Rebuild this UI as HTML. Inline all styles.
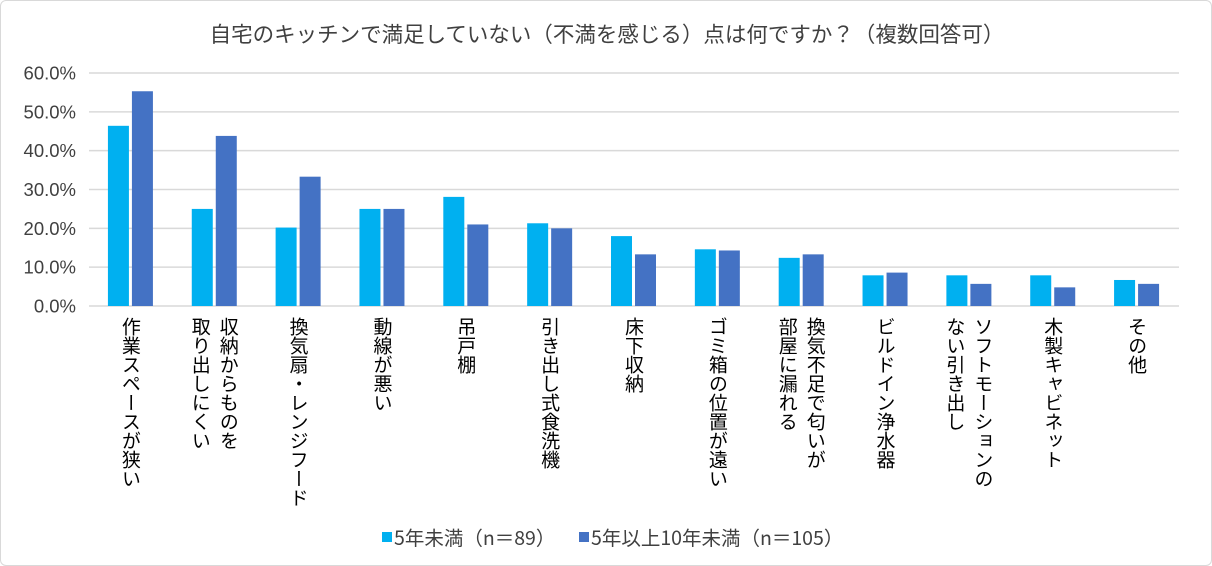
<!DOCTYPE html>
<html><head><meta charset="utf-8"><style>
body{margin:0;background:#fff;font-family:"Liberation Sans","Noto Sans CJK JP",sans-serif;}
#wrap{position:relative;width:1210px;height:564px;border:1px solid #d9d9d9;border-radius:6px;overflow:hidden;}
.lab{position:absolute;top:316px;writing-mode:vertical-rl;font-size:19px;line-height:28px;color:#000;font-family:"Noto Sans CJK JP",sans-serif;white-space:nowrap;}
</style></head><body>
<div id="wrap">
<svg id="svg" width="1210" height="564" style="position:absolute;left:0;top:0">
<text x="606" y="41" text-anchor="middle" font-size="21.5" fill="#404040" font-family="Noto Sans CJK JP, sans-serif">自宅のキッチンで満足していない（不満を感じる）点は何ですか？（複数回答可）</text>
</svg>
<div id="labels"></div>
</div>
<script>
const categories=["作業スペースが狭い","収納からものを\n取り出しにくい","換気扇・レンジフード","動線が悪い","吊戸棚","引き出し式食洗機","床下収納","ゴミ箱の位置が遠い","換気不足で匂いが\n部屋に漏れる","ビルドイン浄水器","ソフトモーションの\nない引き出し","木製キャビネット","その他"];
const seriesA=[46.4,25.0,20.2,25.0,28.1,21.3,18.0,14.6,12.4,7.9,7.9,7.9,6.7];
const seriesB=[55.3,43.8,33.3,25.0,21.0,20.0,13.3,14.3,13.3,8.6,5.7,4.8,5.7];
const ticks=[0,10,20,30,40,50,60];
const seriesNames=["5年未満（n＝89）","5年以上10年未満（n＝105）"];
const NS="http://www.w3.org/2000/svg";
const svg=document.getElementById('svg');
const x0=88,x1=1178,y0=305,y1=72;
const yS=v=>y0-(v/60)*(y0-y1);
const bw=(x1-x0)/categories.length;
function mk(t,a){const e=document.createElementNS(NS,t);for(const k in a)e.setAttribute(k,a[k]);svg.appendChild(e);return e;}
ticks.forEach(t=>{
 const l=mk('line',{x1:x0,x2:x1,y1:yS(t),y2:yS(t),stroke:'#d9d9d9','stroke-width':1.5});
 
 
 const tx=mk('text',{x:75,y:yS(t)+6.5,'text-anchor':'end','font-size':18.5,fill:'#404040'});
 tx.textContent=t.toFixed(1)+'%';
 
 
});
const labels=document.getElementById('labels');
categories.forEach((c,i)=>{
 const cx=x0+bw*(i+0.5);
 const a=mk('rect',{x:cx-23,y:yS(seriesA[i]),width:21,height:y0-yS(seriesA[i]),fill:'#00B0F0'});
 
 
 const b=mk('rect',{x:cx+1,y:yS(seriesB[i]),width:21,height:y0-yS(seriesB[i]),fill:'#4472C4'});
 
 
 const d=document.createElement('div');
 d.className='lab';
 d.innerHTML=c.replace('\n','<br>');
 
 
 labels.appendChild(d);
 const lines=c.split('\n').length;
 d.style.left=(cx-lines*14)+'px';
});
const cols=['#00B0F0','#4472C4'];
const lx=[381,578];
seriesNames.forEach((n,i)=>{
 const r=mk('rect',{x:lx[i],y:531,width:10,height:10,fill:cols[i]});
 
 
 const t=mk('text',{x:lx[i]+12,y:544,'font-size':19.5,fill:'#404040','font-family':'Noto Sans CJK JP, sans-serif'});
 t.textContent=n;
 
 
});
</script>
</body></html>
